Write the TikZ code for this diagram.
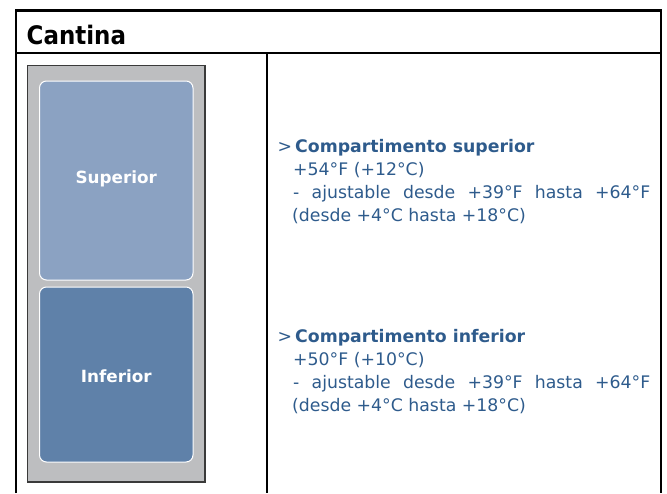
\documentclass[tikz,border=0pt]{standalone}
\usepackage{fontspec}
\setmainfont{DejaVu Sans}
\newfontfamily\condfont{DejaVu Sans Condensed}
\definecolor{txtblue}{HTML}{2E5B8C}
\definecolor{upcol}{HTML}{8BA2C2}
\definecolor{lowcol}{HTML}{5F81A9}
\definecolor{cabgray}{HTML}{BDBEC0}
\definecolor{cabedge}{HTML}{3A3A3A}
\begin{document}
\begin{tikzpicture}[x=1pt,y=-1pt,
  grid/.style={line width=2.9pt,black},
  comp/.style={draw=white,line width=1pt,rounded corners=7pt},
  complabel/.style={anchor=base,text=white,font=\fontsize{16.8}{20}\selectfont\bfseries,inner sep=0pt},
  info/.style={anchor=base west,inner sep=0pt,text=txtblue,font=\fontsize{17.3}{20}\selectfont}]
\useasboundingbox (0,0) rectangle (667,493);
% table
\draw[grid] (16,493) -- (16,10.7) -- (661,10.7) -- (661,493);
\draw[grid] (16,53) -- (661,53);
\draw[grid] (267,53) -- (267,493);
\node[anchor=base west,inner sep=0pt,font=\condfont\fontsize{25.5}{28}\selectfont\bfseries] (title) at (26.5,44.3) {Cantina};
% cabinet
\draw[fill=cabgray,draw=cabedge,line width=1.3pt] (27.5,65.7) rectangle (205,482);
\draw[comp,fill=upcol] (39.5,81) rectangle (193,280);
\draw[comp,fill=lowcol] (39.5,287) rectangle (193,462);
\node[complabel] (sup) at (116.3,183) {Superior};
\node[complabel] (inf) at (116.3,382.5) {Inferior};
% info upper
\node[info] (g1) at (277.5,152.3) {>};
\node[info,font=\fontsize{17.3}{20}\selectfont\bfseries] (h1) at (295,152.3) {Compartimento superior};
\node[info] (a1) at (293,175) {+54°F (+12°C)};
\node[info] (b1) at (293,198.3) {\makebox[357pt][s]{- ajustable desde +39°F hasta +64°F}};
\node[info] (c1) at (292,221.3) {(desde +4°C hasta +18°C)};
% info lower
\node[info] (g2) at (277.5,342.3) {>};
\node[info,font=\fontsize{17.3}{20}\selectfont\bfseries] (h2) at (295,342.3) {Compartimento inferior};
\node[info] (a2) at (293,365) {+50°F (+10°C)};
\node[info] (b2) at (293,388.3) {\makebox[357pt][s]{- ajustable desde +39°F hasta +64°F}};
\node[info] (c2) at (292,411.3) {(desde +4°C hasta +18°C)};
\end{tikzpicture}
\end{document}
